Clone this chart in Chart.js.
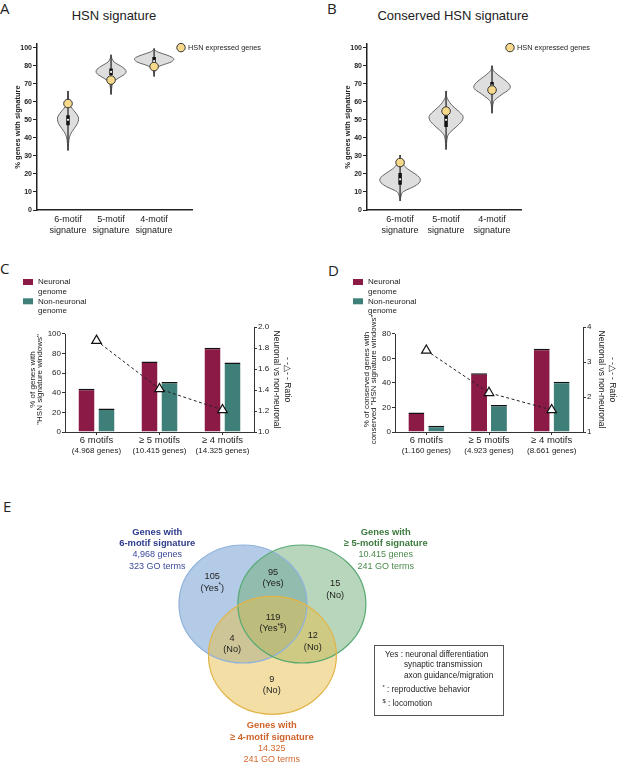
<!DOCTYPE html>
<html><head><meta charset="utf-8">
<script src="https://cdn.jsdelivr.net/npm/chart.js@4.4.0/dist/chart.umd.min.js"></script>
<style>
html,body{margin:0;padding:0;background:#fff}
body{width:617px;height:763px;position:relative;overflow:hidden;font-family:"Liberation Sans",Arial,sans-serif;color:#222}
canvas{position:absolute}
.letter{position:absolute;font-family:"Open Sans","Liberation Sans",sans-serif;font-size:15px;line-height:15px;color:#222}
.ttl{position:absolute;width:220px;text-align:center;font-size:13px;line-height:13px;color:#222}
</style></head><body>
<div class="letter" style="left:0px;top:1px">A</div>
<div class="letter" style="left:327px;top:1px">B</div>
<div class="letter" style="left:0px;top:261px">C</div>
<div class="letter" style="left:328px;top:263px">D</div>
<div class="letter" style="left:3px;top:499px">E</div>
<div class="ttl" style="left:4px;top:9px">HSN signature</div>
<div class="ttl" style="left:343px;top:9px">Conserved HSN signature</div>
<canvas id="cA" width="308" height="250" style="left:0;top:0;width:308px;height:250px"></canvas>
<canvas id="cB" width="309" height="250" style="left:308px;top:0;width:309px;height:250px"></canvas>
<canvas id="cC" width="308" height="220" style="left:0;top:250px;width:308px;height:220px"></canvas>
<canvas id="cD" width="309" height="220" style="left:308px;top:250px;width:309px;height:220px"></canvas>
<canvas id="cE" width="617" height="293" style="left:0;top:470px;width:617px;height:293px"></canvas>
<script>
// ================= DATA =================
// Panels A & B (violin plots)
const violinCategories = [['6-motif','signature'],['5-motif','signature'],['4-motif','signature']];
const violinTickValues = [0,10,20,30,40,50,60,70,80,90];
const violinTickLabels = ['0','10','20','30','40','50','60','70','80','100'];
const violinLegendLabel = 'HSN expressed genes';

// Panel A: violin profile levels (% genes) and half-widths (density, x units)
const aViolinLevels = [
  [66,62,58,55,52,50,48,45,42,39,35,33],
  [86,84,82,80,78,76.5,75,73,71,69,66,64],
  [89.5,88.5,87.5,86,84.5,83.5,82,80.5,79,77.5,75.5,74]];
const aViolinDensity = [
  [0,0.012,0.047,0.14,0.233,0.244,0.221,0.14,0.058,0.023,0.007,0],
  [0,0.019,0.07,0.209,0.326,0.349,0.302,0.163,0.058,0.023,0.009,0],
  [0,0.023,0.093,0.279,0.43,0.458,0.395,0.209,0.07,0.023,0.009,0]];
const aBoxLow = [47, 74.8, 80.2];
const aBoxHigh = [52.5, 78.4, 84.8];
const aMedian = [50, 76.5, 82.5];
const aHsnExpressed = [59, 72, 79.5];

// Panel B
const bViolinLevels = [
  [30.5,28,26,23,20,18,16.5,15,13,11,9.5,7,5],
  [66,63,61,58,55,52.5,51,49,46,43,41,37,33.5],
  [80,78,76.5,74,71.5,69.5,68,66.5,64.5,62,60,57,53.6]];
const bViolinDensity = [
  [0,0.011,0.043,0.152,0.326,0.424,0.441,0.413,0.304,0.13,0.043,0.013,0],
  [0,0.011,0.043,0.13,0.261,0.359,0.37,0.337,0.217,0.087,0.033,0.011,0],
  [0,0.017,0.054,0.174,0.304,0.38,0.398,0.359,0.239,0.109,0.033,0.011,0]];
const bBoxLow = [14, 46, 66.5];
const bBoxHigh = [20.5, 53.7, 71];
const bMedian = [17, 50, 69];
const bHsnExpressed = [26.3, 54.8, 66.5];

// Panels C & D (bars + ratio)
const seriesNames = [['Neuronal','genome'],['Non-neuronal','genome']];
const motifCategories = ['6 motifs','\u2265 5 motifs','\u2265 4 motifs'];
const cGeneCounts = ['(4.968 genes)','(10.415 genes)','(14.325 genes)'];
const cNeuronal = [44, 72, 86];
const cNonNeuronal = [24, 51, 71];
const cRatio = [1.87, 1.41, 1.21];
const cLeftTicks = [0,20,40,60,80,100];
const cRightTicks = [1.0,1.2,1.4,1.6,1.8,2.0];

const dGeneCounts = ['(1.160 genes)','(4.923 genes)','(8.661 genes)'];
const dNeuronal = [16, 48, 68];
const dNonNeuronal = [5, 22, 41];
const dRatio = [3.33, 2.12, 1.63];
const dLeftTicks = [0,20,40,60,80];
const dRightTicks = [1,2,3,4];

// Panel E (Venn)
const vennSetLines = [
  ['Genes with','6-motif signature','4,968 genes','323 GO terms'],
  ['Genes with','\u2265 5-motif signature','10.415 genes','241 GO terms'],
  ['Genes with','\u2265 4-motif signature','14.325','241 GO terms']];
const vennRegionCounts = ['105','95','15','119','4','12','9'];
const vennRegionGO = ['(Yes*)','(Yes)','(No)','(Yes*$)','(No)','(No)','(No)'];
const vennKey = ['Yes : neuronal differentiation','synaptic transmission','axon guidance/migration','* : reproductive behavior','$ : locomotion'];

// Venn geometry (data units)
const vennCenterX = [0, 0.92, 0.46];
const vennCenterY = [0, 0, -0.87];
const vennRadius = [1, 1, 1];
const vennRegionX = [-0.48, 0.47, 1.44, 0.47, -0.17, 1.09, 0.45];
const vennRegionY = [0.37, 0.44, 0.25, -0.32, -0.68, -0.64, -1.37];
const vennSetX = [-1.34, 2.23, 0.45];
const vennSetY = [0.93, 0.93, -2.35];

// ================= STYLE / HELPERS =================
Chart.defaults.font.family = '"Liberation Sans", Arial, sans-serif';
Chart.defaults.color = '#222';
Chart.defaults.animation = false;
const FONT = '"Liberation Sans", Arial, sans-serif';

function richText(ctx, text, cx, cy, size, weight, color, align) {
  // '*' and '$' are rendered as superscripts
  const parts = [];
  for (const ch of text) {
    const sup = (ch === '*' || ch === '$');
    if (parts.length && parts[parts.length-1].sup === sup) parts[parts.length-1].t += ch;
    else parts.push({t: ch, sup});
  }
  let total = 0;
  parts.forEach(p => {
    ctx.font = (weight||'normal') + ' ' + (p.sup ? size*0.7 : size) + 'px ' + FONT;
    p.w = ctx.measureText(p.t).width; total += p.w;
  });
  let x = align === 'left' ? cx : cx - total/2;
  ctx.fillStyle = color; ctx.textBaseline = 'middle'; ctx.textAlign = 'left';
  parts.forEach(p => {
    ctx.font = (weight||'normal') + ' ' + (p.sup ? size*0.7 : size) + 'px ' + FONT;
    ctx.fillText(p.t, x, p.sup ? cy - size*0.28 : cy);
    x += p.w;
  });
}

const hsnLegend = {
  id: 'hsnLegend',
  afterDraw(chart) {
    const {ctx, chartArea, scales} = chart;
    const ds = chart.data.datasets[chart.data.datasets.length-1];
    const x = chartArea.right - 11, y = scales.y.getPixelForValue(90);
    ctx.save();
    ctx.beginPath(); ctx.arc(x, y, 4.2, 0, Math.PI*2);
    ctx.fillStyle = ds.pointBackgroundColor; ctx.fill();
    ctx.lineWidth = 1; ctx.strokeStyle = ds.pointBorderColor; ctx.stroke();
    ctx.font = '7.3px ' + FONT; ctx.fillStyle = '#222'; ctx.textBaseline = 'middle'; ctx.textAlign = 'left';
    ctx.fillText(ds.label, x + 7, y);
    ctx.restore();
  }
};

function violinChart(id, levels, dens, lows, highs, meds, hsn, xMin, xMax, padRight, yAxisW, yTitlePad) {
  const datasets = [];
  levels.forEach((ys, i) => {
    const c = i + 1;
    const right = ys.map((y, k) => ({x: c + dens[i][k], y}));
    const left = ys.map((y, k) => ({x: c - dens[i][k], y})).reverse().slice(1);
    datasets.push({label:'violin', data:right.concat(left), fill:'shape', backgroundColor:'#dedede',
      borderColor:'#666', borderWidth:1, tension:0.3, pointRadius:0, order:5});
    datasets.push({label:'range', data:[{x:c,y:ys[0]},{x:c,y:ys[ys.length-1]}], borderColor:'#3a3a3a',
      borderWidth:1.4, pointRadius:0, fill:false, order:4});
    datasets.push({label:'iqr', data:[{x:c,y:highs[i]},{x:c,y:lows[i]}], borderColor:'#111',
      borderWidth:3.5, borderCapStyle:'butt', pointRadius:0, fill:false, order:3});
    datasets.push({label:'median', data:[{x:c,y:meds[i]}], showLine:false, pointRadius:1.1,
      pointBackgroundColor:'#fff', pointBorderWidth:0, order:2});
  });
  datasets.push({label:violinLegendLabel, data:hsn.map((v,i)=>({x:i+1,y:v})), showLine:false,
    pointRadius:4.3, pointBackgroundColor:'#f6d98a', pointBorderColor:'#333', pointBorderWidth:1, order:1});
  return new Chart(document.getElementById(id), {
    type:'line',
    data:{datasets},
    plugins:[hsnLegend],
    options:{
      responsive:false, animation:false,
      layout:{padding:{top:44, right:padRight, left:0, bottom:0}},
      plugins:{legend:{display:false}, tooltip:{enabled:false}, title:{display:false}},
      scales:{
        x:{type:'linear', min:xMin, max:xMax,
          afterBuildTicks:s=>{ s.ticks = [1,2,3].map(v=>({value:v})); },
          afterFit:s=>{ s.height = 40; },
          ticks:{callback:(v)=>violinCategories[Math.round(v)-1], font:{size:9, lineHeight:1.22}, padding:4, color:'#222', maxRotation:0, autoSkip:false},
          grid:{display:false, drawTicks:false}, border:{color:'#222', width:1.5}},
        y:{type:'linear', min:0, max:92,
          afterBuildTicks:s=>{ s.ticks = violinTickValues.map(v=>({value:v})); },
          afterFit:s=>{ s.width = yAxisW; },
          ticks:{callback:(v,i)=>violinTickLabels[i], font:{size:7, weight:'bold'}, padding:1, color:'#222'},
          grid:{drawOnChartArea:false, tickLength:4, color:'#222'}, border:{color:'#222', width:1.5},
          title:{display:true, text:'% genes with signature', font:{size:7.5, weight:'bold'}, padding:{top:yTitlePad, bottom:0}, color:'#222'}}
      }
    }
  });
}

const barLegend = {
  id:'barLegend',
  afterDraw(chart, args, opts) {
    const ctx = chart.ctx;
    ctx.save();
    // left axis line, only up to the last left tick
    const ys = chart.scales.y;
    const lastTick = ys.ticks[ys.ticks.length-1].value;
    ctx.strokeStyle = '#333'; ctx.lineWidth = 1;
    ctx.beginPath();
    ctx.moveTo(chart.chartArea.left + 0.5, ys.getPixelForValue(0));
    ctx.lineTo(chart.chartArea.left + 0.5, ys.getPixelForValue(lastTick));
    ctx.stroke();
    seriesNames.forEach((lines, i) => {
      const y0 = opts.y + i*19.3;
      ctx.fillStyle = chart.data.datasets[i].backgroundColor;
      ctx.fillRect(opts.x, y0 - 3, 10, 6);
      ctx.fillStyle = '#222'; ctx.font = '8px ' + FONT; ctx.textBaseline = 'middle'; ctx.textAlign = 'left';
      lines.forEach((t, k) => ctx.fillText(t, opts.x + 15, y0 + k*9.3));
    });
    ctx.restore();
  }
};

function barChart(id, neuronal, nonNeuronal, ratio, geneCounts, leftMax, leftTicks, rightTicks, rightFmt, leftW, rightW, leftTitle, leftPad, rightPad, legendX) {
  const barStyle = {borderColor:'#111', borderWidth:{top:1.5,left:0,right:0,bottom:0}, borderSkipped:false,
    categoryPercentage:0.635, barPercentage:0.8, order:1, xAxisID:'x', yAxisID:'y'};
  return new Chart(document.getElementById(id), {
    type:'bar',
    data:{labels:motifCategories, datasets:[
      Object.assign({label:seriesNames[0].join(' '), data:neuronal, backgroundColor:'#8b1a47'}, barStyle),
      Object.assign({label:seriesNames[1].join(' '), data:nonNeuronal, backgroundColor:'#3e7f7a'}, barStyle),
      {type:'line', label:'Ratio', data:ratio, xAxisID:'x', yAxisID:'y2', borderColor:'#222', borderWidth:1,
        borderDash:[3,2.5], fill:false, tension:0, pointStyle:'triangle', pointRadius:5.5,
        pointBackgroundColor:'#fff', pointBorderColor:'#111', pointBorderWidth:1.2, order:0}
    ]},
    plugins:[barLegend],
    options:{
      responsive:false, animation:false,
      layout:{padding:{top:77, left:0, right:0, bottom:0}},
      plugins:{legend:{display:false}, tooltip:{enabled:false}, barLegend:{x:legendX, y:32}},
      scales:{
        x:{type:'category', position:'bottom', weight:0, offset:true,
          afterFit:s=>{ s.height = 13.5; },
          ticks:{font:{size:9.5}, padding:0, color:'#222', maxRotation:0, autoSkip:false},
          grid:{offset:false, drawOnChartArea:false, tickLength:3, color:'#333'}, border:{color:'#333', width:1}},
        x2:{type:'category', position:'bottom', weight:1, offset:true, labels:geneCounts,
          afterFit:s=>{ s.height = 24.5; },
          ticks:{font:{size:8}, padding:0, color:'#222', maxRotation:0, autoSkip:false},
          grid:{display:false, drawTicks:false}, border:{display:false}},
        y:{type:'linear', position:'left', min:0, max:leftMax,
          afterBuildTicks:s=>{ s.ticks = leftTicks.map(v=>({value:v})); },
          afterFit:s=>{ s.width = leftW; },
          ticks:{font:{size:8}, padding:1, color:'#222'},
          grid:{drawOnChartArea:false, tickLength:3, color:'#333'}, border:{display:false},
          title:{display:true, text:leftTitle, font:{size:8, lineHeight:0.9}, padding:{top:leftPad, bottom:0}, color:'#222'}},
        y2:{type:'linear', position:'right', min:rightTicks[0], max:rightTicks[rightTicks.length-1],
          afterBuildTicks:s=>{ s.ticks = rightTicks.map(v=>({value:v})); },
          afterFit:s=>{ s.width = rightW; },
          ticks:{font:{size:8}, padding:1, color:'#222', callback:rightFmt},
          grid:{drawOnChartArea:false, tickLength:3, color:'#333'}, border:{color:'#333', width:1},
          title:{display:true, text:['- -\u25B3- - Ratio','Neuronal vs non-neuronal'], font:{size:8.5, lineHeight:1.2}, padding:{top:rightPad, bottom:0}, color:'#222'}}
      }
    }
  });
}

// ================= CHARTS =================
violinChart('cA', aViolinLevels, aViolinDensity, aBoxLow, aBoxHigh, aMedian, aHsnExpressed, 0.28, 3.88, 116, 37, 13.5);
violinChart('cB', bViolinLevels, bViolinDensity, bBoxLow, bBoxHigh, bMedian, bHsnExpressed, 0.28, 3.63, 96, 59, 35.5);

barChart('cC', cNeuronal, cNonNeuronal, cRatio, cGeneCounts, 107.1, cLeftTicks, cRightTicks, v=>v.toFixed(1),
  65, 54, ['% of genes with','"HSN signature windows"'], 28.7, 16, 23);
barChart('cD', dNeuronal, dNonNeuronal, dRatio, dGeneCounts, 85.7, dLeftTicks, dRightTicks, v=>String(v),
  87, 34, ['% of conserved genes with','conserved "HSN signature windows"'], 54.7, 0, 45);

const vennPlugin = {
  id:'venn',
  beforeDatasetsDraw(chart) {
    const {ctx, scales:{x, y}} = chart;
    const fills = ['rgba(103,151,205,0.5)','rgba(113,173,119,0.5)','rgba(231,191,75,0.5)'];
    const strokes = ['#8fb1dc','#57a972','#e2b448'];
    const geom = vennCenterX.map((cx, i) => {
      const px = x.getPixelForValue(cx), py = y.getPixelForValue(vennCenterY[i]);
      return {px, py, rx:Math.abs(x.getPixelForValue(cx + vennRadius[i]) - px), ry:Math.abs(y.getPixelForValue(vennCenterY[i] + vennRadius[i]) - py)};
    });
    ctx.save();
    geom.forEach((g, i) => { ctx.beginPath(); ctx.ellipse(g.px, g.py, g.rx, g.ry, 0, 0, Math.PI*2); ctx.fillStyle = fills[i]; ctx.fill(); });
    geom.forEach((g, i) => { ctx.beginPath(); ctx.ellipse(g.px, g.py, g.rx, g.ry, 0, 0, Math.PI*2); ctx.strokeStyle = strokes[i]; ctx.lineWidth = 1.2; ctx.stroke(); });
    ctx.restore();
  },
  afterDatasetsDraw(chart) {
    const {ctx, scales:{x, y}} = chart;
    ctx.save();
    vennRegionCounts.forEach((t, i) => {
      const px = x.getPixelForValue(vennRegionX[i]), py = y.getPixelForValue(vennRegionY[i]);
      richText(ctx, t, px, py - 5.8, 9.2, 'normal', '#1e1e1e');
      richText(ctx, vennRegionGO[i], px, py + 5.8, 9.2, 'normal', '#1e1e1e');
    });
    const setColors = [['#2d3b8c','#3b4b9a'],['#3c7a3e','#4a8a4c'],['#d0632a','#d3692f']];
    vennSetLines.forEach((lines, i) => {
      const px = x.getPixelForValue(vennSetX[i]), py = y.getPixelForValue(vennSetY[i]);
      lines.forEach((t, k) => {
        const bold = k < 2;
        richText(ctx, t, px, py + (k - 1.5)*11.3, bold ? 9.4 : 9, bold ? 'bold' : 'normal', setColors[i][bold ? 0 : 1]);
      });
    });
    // key box
    ctx.strokeStyle = '#555'; ctx.lineWidth = 1;
    ctx.strokeRect(374.5, 175.5, 129, 70);
    const keyX = [385, 404, 404, 382.5, 382.5];
    const keyY = [184.3, 195, 205.3, 220, 233.7];
    vennKey.forEach((t, k) => richText(ctx, t, keyX[k], keyY[k], 8.2, 'normal', '#222', 'left'));
    ctx.restore();
  }
};

new Chart(document.getElementById('cE'), {
  type:'scatter',
  data:{datasets:[{data:[], pointRadius:0}]},
  plugins:[vennPlugin],
  options:{
    responsive:false, animation:false,
    layout:{padding:0},
    plugins:{legend:{display:false}, tooltip:{enabled:false}},
    scales:{
      x:{type:'linear', display:false, min:-3.797, max:5.844},
      y:{type:'linear', display:false, min:-2.695, max:2.271}
    }
  }
});
</script>
</body></html>
